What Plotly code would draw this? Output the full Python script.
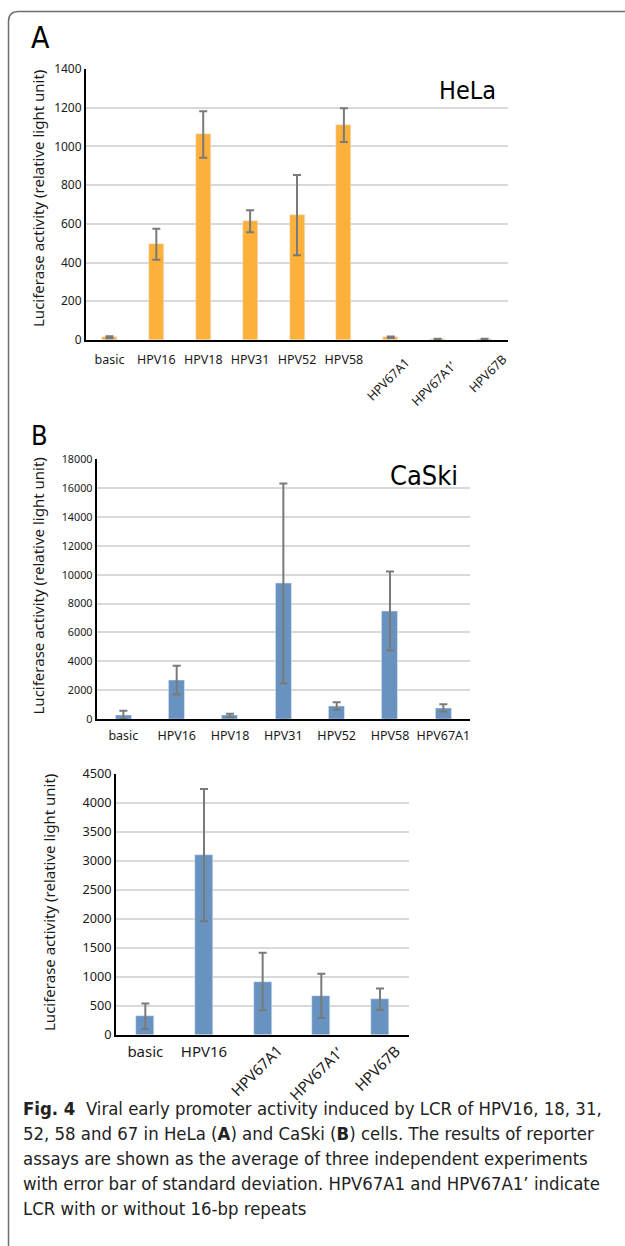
import plotly.graph_objects as go

W, H = 625, 1246

# ---- data ----
cats_a = ["basic", "HPV16", "HPV18", "HPV31", "HPV52", "HPV58", "HPV67A1", "HPV67A1\u2019", "HPV67B"]
vals_a = [14, 495, 1062, 613, 645, 1110, 14, 4, 4]
err_a = [5, 80, 120, 57, 207, 87, 4, 2, 2]

cats_b = ["basic", "HPV16", "HPV18", "HPV31", "HPV52", "HPV58", "HPV67A1"]
vals_b = [275, 2690, 265, 9400, 900, 7480, 770]
err_b = [300, 1000, 105, 6930, 260, 2740, 250]

cats_c = ["basic", "HPV16", "HPV67A1", "HPV67A1\u2019", "HPV67B"]
vals_c = [318, 3100, 918, 670, 611]
err_c = [220, 1140, 498, 383, 185]

ytitle = "Luciferase activity (relative light unit)"
caption_lines = [
    "<b>Fig. 4</b>  Viral early promoter activity induced by LCR of HPV16, 18, 31,",
    "52, 58 and 67 in HeLa (<b>A</b>) and CaSki (<b>B</b>) cells. The results of reporter",
    "assays are shown as the average of three independent experiments",
    "with error bar of standard deviation. HPV67A1 and HPV67A1\u2019 indicate",
    "LCR with or without 16-bp repeats",
]

ORANGE = "#FDB03A"
BLUE = "#6893C1"
ERR = "#7a7a7a"
NARROW = "Liberation Sans Narrow, DejaVu Sans Condensed, Noto Sans"
TICKF = "Noto Sans, Open Sans, sans-serif"
TXT = "#1a1a1a"


def px_x(p):
    return p / W


def px_y(p):
    return 1 - p / H


fig = go.Figure()

fig.add_trace(go.Bar(x=cats_a, y=vals_a, marker_color=ORANGE, width=0.32,
                     error_y=dict(type="data", array=err_a, color=ERR, thickness=2, width=4),
                     xaxis="x", yaxis="y"))
fig.add_trace(go.Bar(x=cats_b, y=vals_b, marker_color=BLUE, width=0.3,
                     error_y=dict(type="data", array=err_b, color=ERR, thickness=2, width=4),
                     xaxis="x2", yaxis="y2"))
fig.add_trace(go.Bar(x=cats_c, y=vals_c, marker_color=BLUE, width=0.31,
                     error_y=dict(type="data", array=err_c, color=ERR, thickness=2, width=4),
                     xaxis="x3", yaxis="y3"))


def yax(domain, rng, dtick, anchor, tfs):
    return dict(domain=domain, range=rng, dtick=dtick, anchor=anchor, tickformat="d",
                showline=True, linecolor="black", linewidth=2, automargin=False,
                showgrid=True, gridcolor="#d9d9d9", gridwidth=1.5,
                zeroline=False, ticks="", tickfont=dict(family=TICKF, size=tfs, color=TXT),
                fixedrange=True)


def xax(domain, anchor, cats, shown, tfs, standoff):
    return dict(domain=domain, anchor=anchor, showline=True, linecolor="black", linewidth=2,
                type="category", categoryorder="array", categoryarray=cats, automargin=False,
                tickmode="array", tickvals=shown, ticktext=shown, ticks="",
                ticklabelstandoff=standoff,
                tickangle=0, tickfont=dict(family=TICKF, size=tfs, color=TXT),
                range=[-0.5, len(cats) - 0.5], fixedrange=True)


fig.update_layout(
    width=W, height=H, margin=dict(l=0, r=0, t=0, b=0, autoexpand=False),
    paper_bgcolor="white", plot_bgcolor="white", showlegend=False, bargap=0,
    xaxis=xax([px_x(86), px_x(508)], "y", cats_a, cats_a[:6], 12.5, 7),
    yaxis=yax([px_y(340), px_y(69)], [0, 1400], 200, "x", 12),
    xaxis2=xax([px_x(96.7), px_x(470)], "y2", cats_b, cats_b, 12.5, 4),
    yaxis2=yax([px_y(719), px_y(459.3)], [0, 18000], 2000, "x2", 10.8),
    xaxis3=xax([px_x(116), px_x(409.3)], "y3", cats_c, cats_c[:2], 15, 2),
    yaxis3=yax([px_y(1034.7), px_y(774)], [0, 4500], 500, "x3", 12.7),
)

ann = []
# y-axis titles
for xc, yc in [(38, 199), (37.5, 586), (49, 903)]:
    ann.append(dict(x=px_x(xc), y=px_y(yc), xref="paper", yref="paper", text=ytitle,
                    textangle=-90, showarrow=False, xanchor="center", yanchor="middle",
                    font=dict(family=TICKF, size=15, color=TXT)))
# rotated tick labels
for c, yc, dx in zip(cats_a[6:], [379, 383, 373], [-3, -4, 3]):
    ann.append(dict(x=c, y=px_y(yc), xref="x", yref="paper", text=c, textangle=-45,
                    showarrow=False, xanchor="center", yanchor="middle", xshift=dx,
                    font=dict(family=TICKF, size=12.5, color=TXT)))
for c, yc, dx in zip(cats_c[2:], [1070, 1073, 1068], [-6, -5, -3]):
    ann.append(dict(x=c, y=px_y(yc), xref="x3", yref="paper", text=c, textangle=-45,
                    showarrow=False, xanchor="center", yanchor="middle", xshift=dx,
                    font=dict(family=TICKF, size=15, color=TXT)))
# panel labels
ann.append(dict(x=px_x(29), y=px_y(38), xref="paper", yref="paper", text="A", showarrow=False,
                xanchor="left", yanchor="middle", font=dict(family=NARROW, size=30, color="black")))
ann.append(dict(x=px_x(29), y=px_y(435), xref="paper", yref="paper", text="B", showarrow=False,
                xanchor="left", yanchor="middle", font=dict(family=NARROW, size=27, color="black")))
ann.append(dict(x=px_x(498), y=px_y(90), xref="paper", yref="paper", text="HeLa", showarrow=False,
                xanchor="right", yanchor="middle", font=dict(family=NARROW, size=25, color="black")))
ann.append(dict(x=px_x(460), y=px_y(475), xref="paper", yref="paper", text="CaSki", showarrow=False,
                xanchor="right", yanchor="middle", font=dict(family=NARROW, size=27, color="black")))
# caption
for i, line in enumerate(caption_lines):
    ann.append(dict(x=px_x(21), y=px_y(1108 + 25 * i), xref="paper", yref="paper", text=line,
                    showarrow=False, xanchor="left", yanchor="middle",
                    font=dict(family=NARROW, size=18.4, color="#222")))
fig.update_layout(annotations=ann)

# frame
x0, y0, r = px_x(8.5), px_y(11.5), 10
path = (f"M {x0},{px_y(1250)} L {x0},{px_y(11.5 + r)} "
        f"Q {x0},{y0} {px_x(8.5 + r)},{y0} L {px_x(640)},{y0}")
fig.add_shape(type="path", path=path, xref="paper", yref="paper",
              line=dict(color="#6e6e6e", width=1.5))

fig.write_html("out.html", config={"displayModeBar": False},
               post_script="document.body.style.margin='0';document.body.style.overflow='hidden';")
